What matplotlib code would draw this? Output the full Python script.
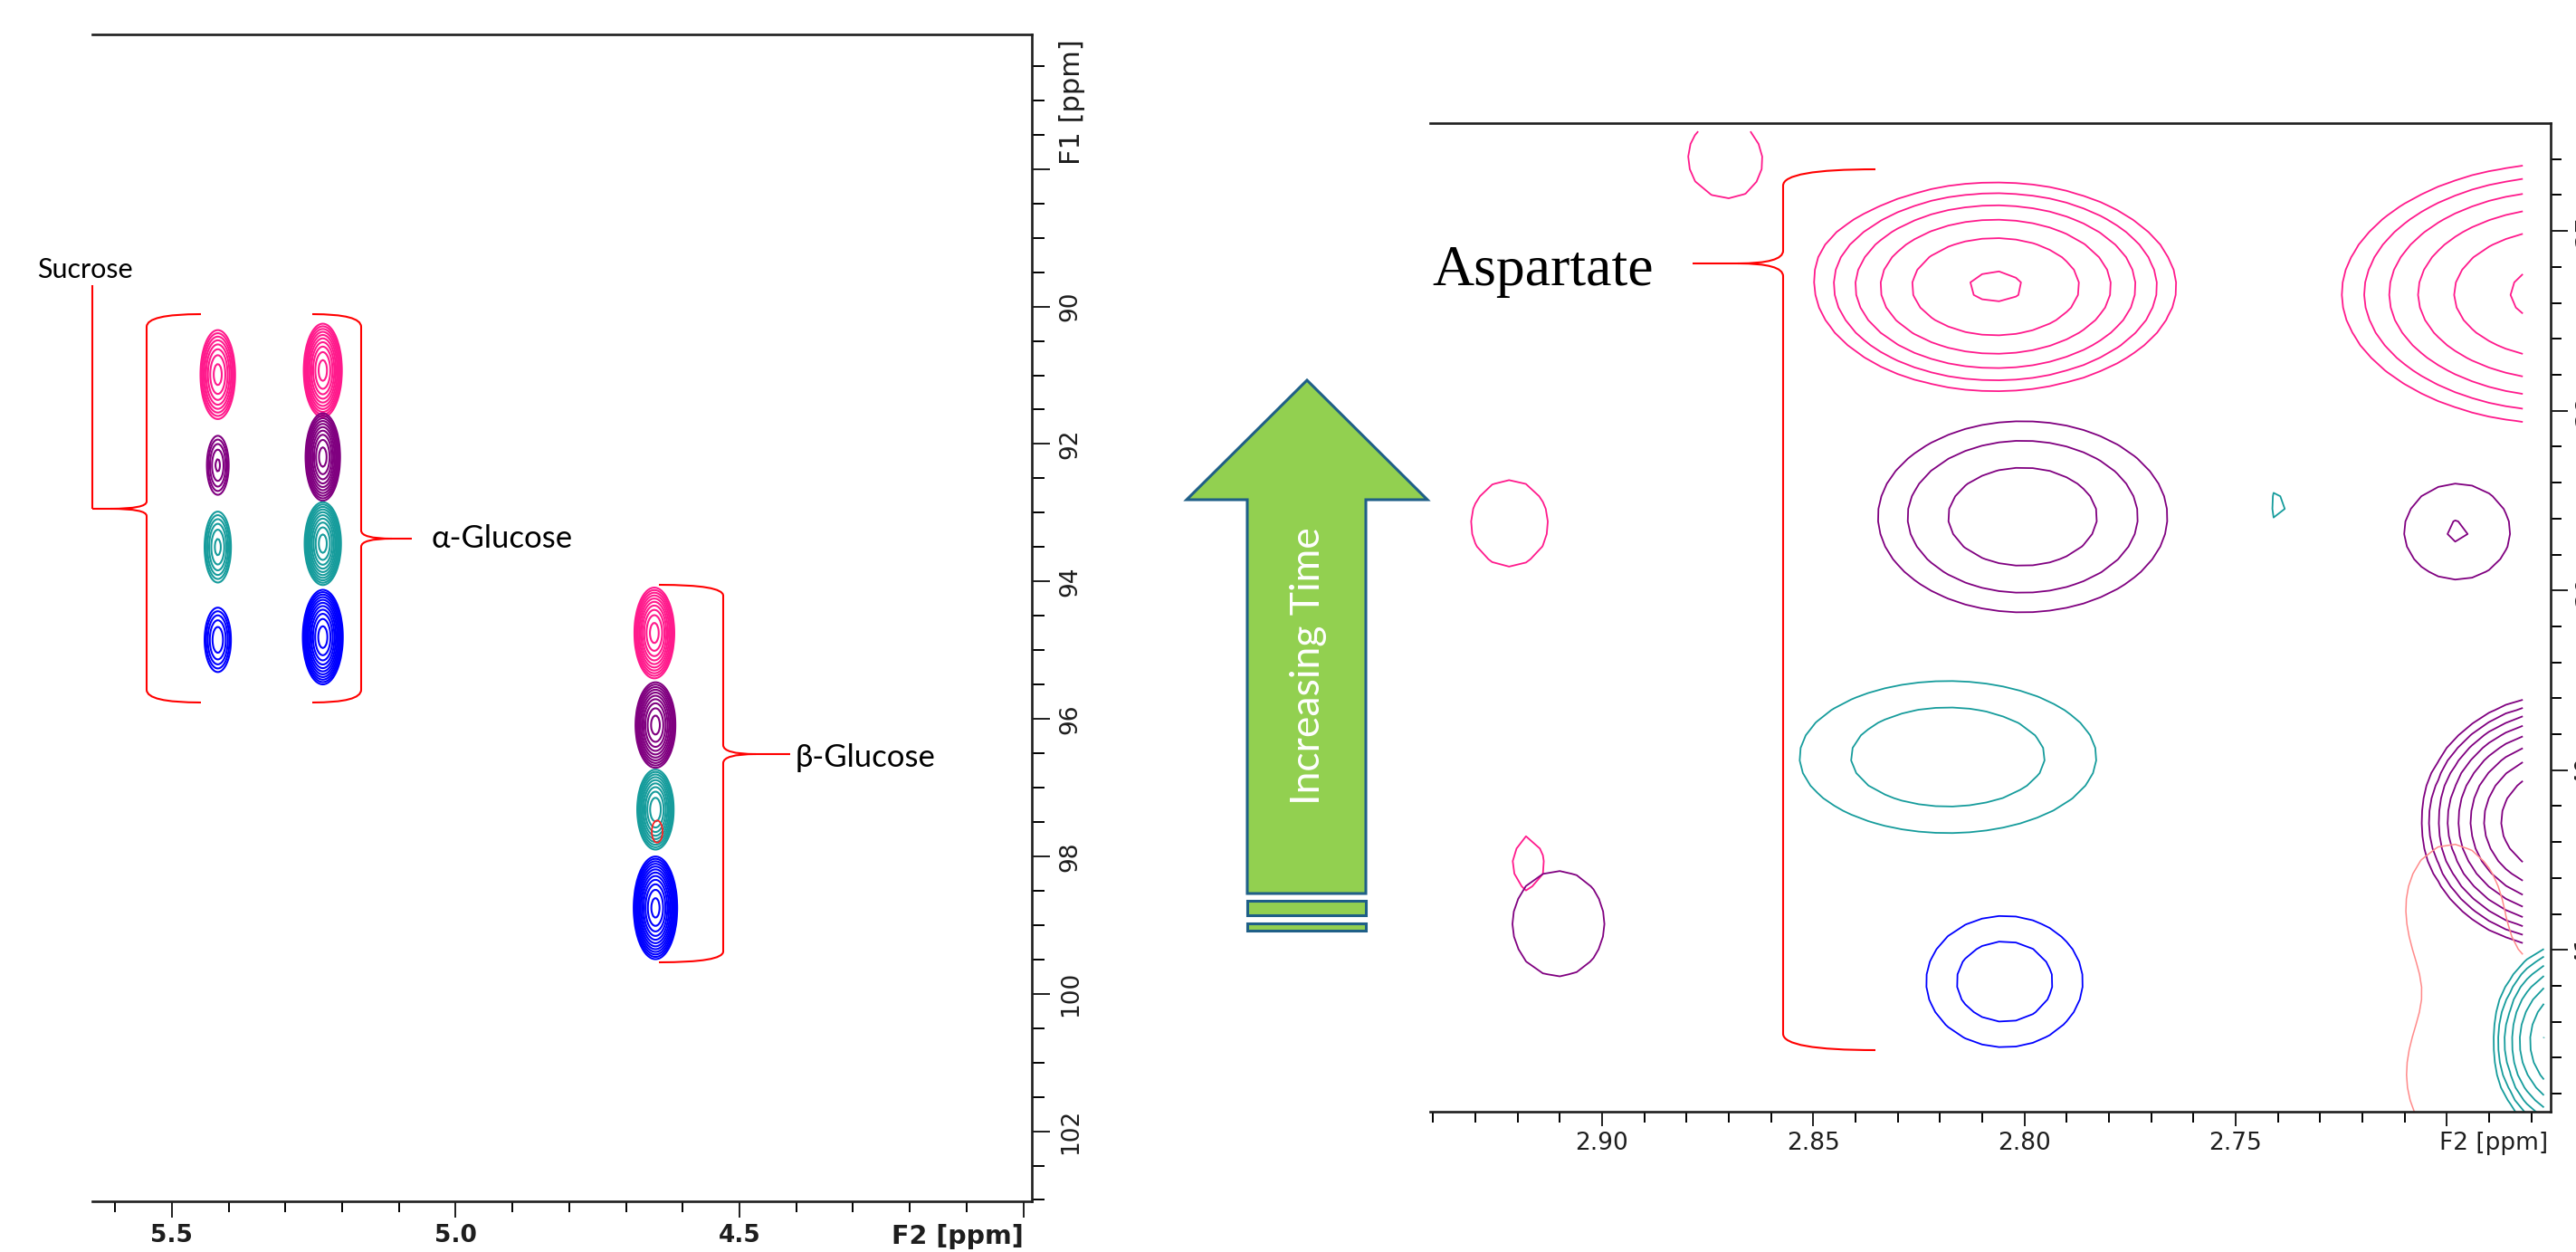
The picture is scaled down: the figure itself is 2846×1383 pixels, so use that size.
import numpy as np
import matplotlib
matplotlib.use("Agg")
import matplotlib.pyplot as plt
from matplotlib.path import Path
from matplotlib.patches import PathPatch, Polygon, Rectangle

W, H = 2846, 1383

PINK = '#ff1a8c'
PURPLE = '#800080'
TEAL = '#169c9c'
BLUE = '#0000ff'
SALMON = '#ff8a8a'
RED = '#ff2020'

# peaks: (F2 ppm, F1 ppm, sigma F2, sigma F1, height)
# left panel - anomeric region, columns sucrose / alpha-glucose / beta-glucose
left_pink = [(5.419, 90.99, 0.0154, 0.328, 7.0),
             (5.234, 90.93, 0.0150, 0.305, 12.0),
             (4.650, 94.75, 0.0157, 0.296, 12.0)]
left_purple = [(5.419, 92.31, 0.0129, 0.290, 3.0),
               (5.234, 92.19, 0.0136, 0.285, 12.0),
               (4.648, 96.09, 0.0157, 0.279, 12.0)]
left_teal = [(5.419, 93.50, 0.0139, 0.310, 4.0),
             (5.234, 93.45, 0.0143, 0.270, 12.0),
             (4.648, 97.32, 0.0149, 0.271, 10.0)]
left_blue = [(5.419, 94.85, 0.0146, 0.296, 3.5),
             (5.234, 94.81, 0.0149, 0.292, 16.0),
             (4.648, 98.75, 0.0156, 0.305, 20.0)]
left_red = [(4.645, 97.64, 0.0106, 0.18, 1.5)]

# right panel - aspartate region
right_pink = [(2.8068, 37.31, 0.0228, 0.312, 5.6),
              (2.672, 37.35, 0.0278, 0.383, 6.0),
              (2.8711, 36.59, 0.0142, 0.350, 1.2),
              (2.9219, 38.627, 0.0174, 0.458, 1.15),
              (2.9176, 40.52, 0.0089, 0.350, 1.1)]
right_purple = [(2.8004, 38.59, 0.0253, 0.3925, 2.5),
                (2.6975, 38.673, 0.0148, 0.316, 1.43),
                (2.674, 40.285, 0.0134, 0.292, 17.0),
                (2.9103, 40.854, 0.0208, 0.556, 1.15)]
right_teal = [(2.8181, 39.927, 0.0324, 0.390, 1.8),
              (2.7393, 38.526, 0.0049, 0.283, 1.1),
              (2.672, 41.51, 0.0080, 0.256, 9.2)]
right_blue = [(2.8047, 41.176, 0.0178, 0.351, 1.72)]
right_salmon = [(2.680, 41.70, 0.025, 0.50, 2.0),
                (2.699, 40.70, 0.010, 0.30, 1.5)]

left_xticks = [5.5, 5.0, 4.5, 4.0]
left_xlabels = ['5.5', '5.0', '4.5', 'F2 [ppm]']
left_yticks = [88, 90, 92, 94, 96, 98, 100, 102]
left_ylabels = ['', '90', '92', '94', '96', '98', '100', '102']
right_xticks = [2.90, 2.85, 2.80, 2.75, 2.70]
right_xlabels = ['2.90', '2.85', '2.80', '2.75', '']
right_yticks = [37, 38, 39, 40, 41]
right_ylabels = ['37', '38', '39', '40', '41']


def spectrum(peaks, f2, f1):
    X, Y = np.meshgrid(f2, f1)
    Z = np.zeros_like(X)
    for c2, c1, s2, s1, h in peaks:
        Z += h * np.exp(-0.5 * (((X - c2) / s2) ** 2 + ((Y - c1) / s1) ** 2))
    return Z


def style_axes(ax, maj_x, min_x, maj_y, min_y, bold_x):
    for s in ['top', 'right', 'bottom']:
        ax.spines[s].set_color('#1e1e1e')
        ax.spines[s].set_linewidth(1.9)
    ax.spines['left'].set_visible(False)
    ax.yaxis.tick_right()
    ax.tick_params(axis='x', which='major', length=maj_x, width=1.4, direction='out',
                   labelsize=19, pad=5, colors='#1e1e1e')
    ax.tick_params(axis='x', which='minor', length=min_x, width=1.4, direction='out')
    ax.tick_params(axis='y', which='major', length=maj_y, width=1.4, direction='out',
                   labelsize=19, pad=7, labelrotation=90, colors='#1e1e1e')
    ax.tick_params(axis='y', which='minor', length=min_y, width=1.4, direction='out')
    for lab in ax.get_yticklabels():
        lab.set_va('center')
    if bold_x:
        for lab in ax.get_xticklabels():
            lab.set_fontweight('bold')


def brace(ax, xs, xa, xt, y0, y1, yt, r=14, rt=9, d=36, lw=1.5):
    s = np.sign(xt - xs)
    verts = [(xa, y0), (xs, y0), (xs, y0 + r),
             (xs, yt - rt), (xs, yt), (xs + s * d, yt), (xt, yt),
             (xs + s * d, yt), (xs, yt), (xs, yt + rt),
             (xs, y1 - r), (xs, y1), (xa, y1)]
    codes = [Path.MOVETO, Path.CURVE3, Path.CURVE3,
             Path.LINETO, Path.CURVE3, Path.CURVE3, Path.LINETO,
             Path.MOVETO, Path.CURVE3, Path.CURVE3,
             Path.LINETO, Path.CURVE3, Path.CURVE3]
    ax.add_patch(PathPatch(Path(verts, codes), fill=False, edgecolor='red', lw=lw))


fig = plt.figure(figsize=(W / 100, H / 100), dpi=100)
fig.patch.set_facecolor('white')

# ---- left panel ----
axL = fig.add_axes([102 / W, 1 - 1327 / H, (1140 - 102) / W, (1327 - 38) / H])
f2 = np.arange(3.98, 5.645, 0.003)
f1 = np.arange(86.0, 103.1, 0.03)
levL = 1.3 ** np.arange(14)
for peaks, col in [(left_pink, PINK), (left_purple, PURPLE), (left_teal, TEAL), (left_blue, BLUE)]:
    axL.contour(f2, f1, spectrum(peaks, f2, f1), levels=levL, colors=col, linewidths=1.5)
axL.contour(f2, f1, spectrum(left_red, f2, f1), levels=[1.0], colors=RED, linewidths=1.3)
axL.set_xlim(5.640, 3.985)
axL.set_ylim(103.02, 86.04)
axL.set_xticks(left_xticks)
axL.set_xticklabels(left_xlabels)
axL.set_xticks(np.arange(4.0, 5.65, 0.1), minor=True)
axL.set_yticks(left_yticks)
axL.set_yticklabels(left_ylabels)
axL.set_yticks(np.arange(86.5, 103.01, 0.5), minor=True)
style_axes(axL, 13, 8.6, 14.4, 10, True)
axL.get_xticklabels()[-1].set_ha('right')
axL.get_xticklabels()[-1].set_fontsize(20.5)
axL.annotate('F1 [ppm]', xy=(1, 1), xycoords='axes fraction', xytext=(21.6, -4),
             textcoords='offset points', rotation=90, ha='left', va='top',
             fontsize=22, color='#1e1e1e')

# ---- right panel ----
axR = fig.add_axes([1580 / W, 1 - 1228 / H, (2818 - 1580) / W, (1228 - 136) / H])
g2 = np.arange(2.682, 2.9410, 0.004)
g2t = np.arange(2.677, 2.9410, 0.004)
g1 = np.arange(36.446, 41.95, 0.07)
levR = 1.4 ** np.arange(12)
for peaks, col in [(right_pink, PINK), (right_purple, PURPLE)]:
    axR.contour(g2, g1, spectrum(peaks, g2, g1), levels=levR, colors=col, linewidths=1.3)
axR.contour(g2t, g1, spectrum(right_teal, g2t, g1), levels=levR, colors=TEAL, linewidths=1.3)
axR.contour(g2, g1, spectrum(right_blue, g2, g1), levels=levR, colors=BLUE, linewidths=1.3)
axR.contour(g2, g1, spectrum(right_salmon, g2, g1), levels=[1.0], colors=SALMON, linewidths=1.1)
axR.set_xlim(2.9407, 2.6754)
axR.set_ylim(41.90, 36.40)
axR.set_xticks(right_xticks)
axR.set_xticklabels(right_xlabels)
axR.set_xticks(np.arange(2.68, 2.9405, 0.01), minor=True)
axR.set_yticks(right_yticks)
axR.set_yticklabels(right_ylabels)
axR.set_yticks(np.arange(36.6, 41.81, 0.2), minor=True)
style_axes(axR, 11.5, 8.6, 13.7, 8.6, False)
axR.tick_params(axis='x', which='major', pad=4)
axR.tick_params(axis='y', which='major', pad=5)
axR.annotate('F2 [ppm]', xy=(1, 0), xycoords='axes fraction', xytext=(-2, -15.5),
             textcoords='offset points', ha='right', va='top', fontsize=19, color='#1e1e1e')

# ---- overlay: braces, labels, arrow (pixel coordinates) ----
ov = fig.add_axes([0, 0, 1, 1], facecolor='none')
ov.set_xlim(0, W)
ov.set_ylim(H, 0)
ov.axis('off')

sans = ['Lato', 'DejaVu Sans']
brace(ov, 162, 222, 102, 347, 776, 562, r=14, rt=8, d=40)
ov.plot([102, 102], [562, 315], color='red', lw=1.5, solid_capstyle='butt')
ov.text(94, 307, 'Sucrose', ha='center', va='baseline', fontsize=22, family=sans)
brace(ov, 399, 345, 455, 347, 776, 595, r=14, rt=9, d=34)
ov.text(476, 605, 'α-Glucose', ha='left', va='baseline', fontsize=25, family=sans)
brace(ov, 799, 728, 873, 646, 1063, 833, r=12, rt=10, d=36)
ov.text(879, 847, 'β-Glucose', ha='left', va='baseline', fontsize=25, family=sans)
brace(ov, 1970, 2072, 1870, 187, 1160, 291, r=18, rt=14, d=50)
ov.text(1582, 315, 'Aspartate', ha='left', va='baseline', fontsize=46,
        family=['Liberation Serif', 'DejaVu Serif'])

arrow = [(1444, 420), (1577, 552), (1509, 552), (1509, 987), (1378, 987),
         (1378, 552), (1311, 552)]
ov.add_patch(Polygon(arrow, closed=True, facecolor='#92d050', edgecolor='#1f5f87', lw=2.2,
                     joinstyle='miter'))
ov.add_patch(Rectangle((1378, 995), 131, 16, facecolor='#92d050', edgecolor='#1f5f87', lw=2.2))
ov.add_patch(Rectangle((1378, 1020), 131, 8, facecolor='#92d050', edgecolor='#1f5f87', lw=2.2))
ov.text(1446, 736, 'Increasing Time', rotation=90, color='white', fontsize=32,
        ha='center', va='center', family=sans)

fig.savefig('out.png', dpi=100, facecolor='white')
